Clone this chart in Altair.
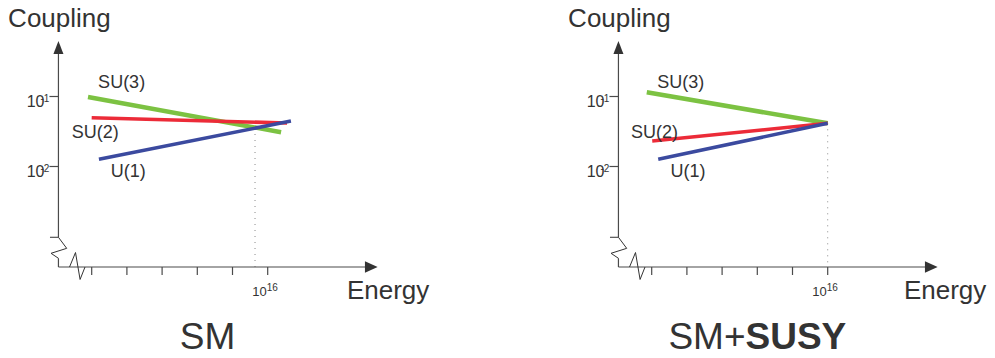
import altair as alt
import pandas as pd

# ---------------- data (x = log10 Energy, y = log10 Coupling) ----------------
series = ["SU(3)", "SU(2)", "U(1)"]
series_colors = ["#7cc242", "#ec2b38", "#3b4a9f"]
series_widths = [4.5, 3.6, 3.6]

# Standard Model panel
sm_e_start = [5.79, 6.00, 6.41]
sm_e_end = [16.76, 17.10, 17.32]
sm_c_start = [-1.007, -1.303, -1.897]
sm_c_end = [-1.511, -1.379, -1.350]
sm_label_e = [7.70, 6.20, 8.08]
sm_label_c = [-0.883, -1.597, -2.146]
sm_dot_e = 15.28
sm_dot_top = -1.45
sm_names_e = [1.25, 20.5]

# SM + SUSY panel
susy_e_start = [5.72, 6.03, 6.37]
susy_e_end = [16.0, 16.0, 16.0]
susy_c_start = [-0.940, -1.636, -1.897]
susy_c_end = [-1.383, -1.383, -1.383]
susy_label_e = [7.65, 6.16, 8.06]
susy_label_c = [-0.883, -1.589, -2.146]
susy_dot_e = 16.0
susy_dot_top = -1.383
susy_names_e = [1.25, 20.33]

# axes
x_ticks = [6, 8, 10, 12, 14, 16]
x_tick_label_base = ["10"]
x_tick_label_exp = ["16"]
y_ticks = [-1, -2]
y_tick_label_base = ["10", "10"]
y_tick_label_exp = ["-1", "-2"]
axis_e = 4.11          # position of the coupling axis
axis_c = -3.436        # position of the energy axis
axis_e_end = 21.53     # end of energy axis (arrow base)
axis_c_end = -0.393    # end of coupling axis (arrow base)
arrow_x_e = 21.886
arrow_y_c = -0.30
ybreak_e = [3.63, 4.11, 4.58, 3.69, 4.11]
ybreak_c = [-3.011, -3.011, -3.169, -3.240, -3.311]
xbreak_e = [4.74, 5.08, 5.34, 5.62]
xbreak_c = [-3.436, -3.229, -3.614, -3.436]
axis_names = ["Coupling", "Energy"]
axis_names_c = [0.0, -3.893]

# ---------------- layout ----------------
PPD_X = 17.6   # pixels per decade of energy
PPD_Y = 70.0   # pixels per decade of coupling
E0 = 1.2443    # energy value at left edge of the left panel
C_TOP = 0.2643
W = 979
H = 342
PANEL_SHIFT = 560  # pixel offset of the second panel
TEXT = "#333333"
AXIS = "#4a4a4a"
FONT = "Liberation Sans"


def panel(e_left, e_start, e_end, c_start, c_end, label_e, label_c, dot_e, dot_top, names_e, title_layers):
    xs = alt.Scale(domain=[e_left, e_left + W / PPD_X], nice=False, zero=False)
    ys = alt.Scale(domain=[C_TOP - H / PPD_Y, C_TOP], nice=False, zero=False)
    X = lambda f: alt.X(f, type="quantitative", scale=xs, axis=None)
    Y = lambda f: alt.Y(f, type="quantitative", scale=ys, axis=None)

    lines = pd.DataFrame({"s": series, "e": e_start, "e2": e_end, "c": c_start, "c2": c_end,
                          "w": series_widths, "le": label_e, "lc": label_c})
    base = alt.Chart(lines)
    seg = base.mark_rule().encode(
        x=X("e"), x2="e2", y=Y("c"), y2="c2",
        color=alt.Color("s:N", scale=alt.Scale(domain=series, range=series_colors), legend=None),
        strokeWidth=alt.StrokeWidth("w:Q", scale=None),
    )
    labels = base.mark_text(font=FONT, fontSize=18, color=TEXT, align="center",
                            baseline="alphabetic").encode(x=X("le"), y=Y("lc"), text="s:N")

    dot = alt.Chart(pd.DataFrame({"e": [dot_e], "c": [dot_top], "c2": [axis_c]})).mark_rule(
        color="#8a8a8a", strokeWidth=1, strokeDash=[1, 5]).encode(x=X("e"), y=Y("c"), y2="c2")

    ax_df = pd.DataFrame({"e": [axis_e, axis_e, axis_e], "e2": [axis_e_end, axis_e, axis_e],
                          "c": [axis_c, ybreak_c[0], ybreak_c[-1]],
                          "c2": [axis_c, axis_c_end, axis_c]})
    axes = alt.Chart(ax_df).mark_rule(color=AXIS, strokeWidth=1.2).encode(
        x=X("e"), x2="e2", y=Y("c"), y2="c2")
    xt_df = pd.DataFrame({"e": x_ticks, "c": [axis_c] * len(x_ticks),
                          "c2": [axis_c - 8 / PPD_Y] * len(x_ticks)})
    xt = alt.Chart(xt_df).mark_rule(color=AXIS, strokeWidth=1.2).encode(x=X("e"), y=Y("c"), y2="c2")
    yt_df = pd.DataFrame({"c": y_ticks, "e": [axis_e - 9 / PPD_X] * len(y_ticks),
                          "e2": [axis_e] * len(y_ticks)})
    yt = alt.Chart(yt_df).mark_rule(color=AXIS, strokeWidth=1.2).encode(y=Y("c"), x=X("e"), x2="e2")

    yb = alt.Chart(pd.DataFrame({"i": list(range(len(ybreak_e))), "e": ybreak_e, "c": ybreak_c})).mark_line(
        color="#333333", strokeWidth=1).encode(x=X("e"), y=Y("c"), order="i:Q")
    xb = alt.Chart(pd.DataFrame({"i": list(range(len(xbreak_e))), "e": xbreak_e, "c": xbreak_c})).mark_line(
        color="#333333", strokeWidth=1).encode(x=X("e"), y=Y("c"), order="i:Q")

    arx = alt.Chart(pd.DataFrame({"e": [arrow_x_e], "c": [axis_c]})).mark_point(
        shape="M1,0L-1,-0.92L-1,0.92Z", size=161, filled=True, opacity=1, color="#333333",
        strokeWidth=0).encode(x=X("e"), y=Y("c"))
    ary = alt.Chart(pd.DataFrame({"e": [axis_e], "c": [arrow_y_c]})).mark_point(
        shape="M0,-1L0.77,1L-0.77,1Z", size=169, filled=True, opacity=1, color="#333333",
        strokeWidth=0).encode(x=X("e"), y=Y("c"))

    xl_df = pd.DataFrame({"e": [16.0], "c": [-3.85], "b": x_tick_label_base, "x": x_tick_label_exp})
    xl1 = alt.Chart(xl_df).mark_text(font=FONT, fontSize=13, color=TEXT, align="right",
                                     baseline="alphabetic", dx=-1).encode(x=X("e"), y=Y("c"), text="b:N")
    xl2 = alt.Chart(xl_df).mark_text(font=FONT, fontSize=10, color=TEXT, align="left",
                                     baseline="alphabetic", dx=-1, dy=-5.5).encode(x=X("e"), y=Y("c"), text="x:N")
    yl_df = pd.DataFrame({"e": [axis_e - 9 / PPD_X] * 2, "c": y_ticks, "b": y_tick_label_base,
                          "x": y_tick_label_exp})
    yl1 = alt.Chart(yl_df).mark_text(font=FONT, fontSize=16, color=TEXT, align="right",
                                     baseline="alphabetic", dx=-5, dy=10.8).encode(x=X("e"), y=Y("c"), text="b:N")
    yl2 = alt.Chart(yl_df).mark_text(font=FONT, fontSize=10, color=TEXT, align="right",
                                     baseline="alphabetic", dx=0, dy=5.2).encode(x=X("e"), y=Y("c"), text="x:N")

    names = pd.DataFrame({"e": names_e, "c": axis_names_c, "t": axis_names})
    ttl = alt.Chart(names).mark_text(font=FONT, fontSize=26, color=TEXT, align="left",
                                     baseline="alphabetic").encode(x=X("e"), y=Y("c"), text="t:N")

    titles = [alt.Chart(pd.DataFrame({"e": [t[0]], "c": [-4.60], "t": [t[1]]})).mark_text(
        font=FONT, fontSize=37, color=TEXT, align=t[2], fontWeight=t[3], baseline="alphabetic"
    ).encode(x=X("e"), y=Y("c"), text="t:N") for t in title_layers]

    return alt.layer(dot, axes, xt, yt, yb, xb, arx, ary, seg, labels, xl1, xl2, yl1, yl2, ttl, *titles)


left = panel(E0, sm_e_start, sm_e_end, sm_c_start, sm_c_end, sm_label_e, sm_label_c,
             sm_dot_e, sm_dot_top, sm_names_e, [(12.58, "SM", "center", "normal")])
right = panel(E0 - PANEL_SHIFT / PPD_X, susy_e_start, susy_e_end, susy_c_start, susy_c_end,
              susy_label_e, susy_label_c, susy_dot_e, susy_dot_top, susy_names_e,
              [(11.33, "SM+", "right", "normal"), (11.33, "SUSY", "left", "bold")])

chart = alt.layer(left, right).resolve_scale(x="independent").properties(
    width=W, height=H, autosize=alt.AutoSizeParams(type="none"), padding=0
).configure_view(stroke=None)

chart.save("out.html", embed_options={"renderer": "svg", "actions": False})
